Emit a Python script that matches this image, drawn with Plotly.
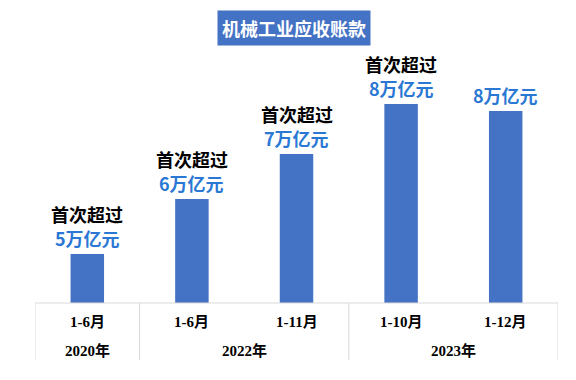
import plotly.graph_objects as go

title = "机械工业应收账款"
months = ["1-6月", "1-6月", "1-11月", "1-10月", "1-12月"]
years = ["2020年", "2022年", "2022年", "2023年", "2023年"]
values = [4.98, 6.08, 6.98, 7.98, 7.84]  # 万亿元 (axis starts at 4)
notes = ["首次超过", "首次超过", "首次超过", "首次超过", ""]
value_labels = ["5万亿元", "6万亿元", "7万亿元", "8万亿元", "8万亿元"]

BAR = "#4472C4"
BLUE_TXT = "#2A78D4"
GRID = "#D9D9D9"
SANS = "Noto Sans CJK SC, Noto Sans, sans-serif"
SERIF = "Liberation Serif, Noto Sans CJK SC, serif"

idx = list(range(len(months)))
fig = go.Figure(go.Bar(x=idx, y=values, marker=dict(color=BAR, line=dict(width=0)),
                       hoverinfo="skip"))

ann = []
shapes = []
for i, v in enumerate(values):
    ann.append(dict(x=i, y=v, xref="x", yref="y", text=f"<b>{value_labels[i]}</b>",
                    showarrow=False, yanchor="middle", yshift=16,
                    font=dict(family=SANS, size=18, color=BLUE_TXT)))
    if notes[i]:
        ann.append(dict(x=i, y=v, xref="x", yref="y", text=f"<b>{notes[i]}</b>",
                        showarrow=False, yanchor="middle", yshift=40,
                        font=dict(family=SANS, size=18, color="#000000")))
    ann.append(dict(x=i, y=0, xref="x", yref="y domain", text=f"<b>{months[i]}</b>",
                    showarrow=False, yanchor="middle", yshift=-19,
                    font=dict(family=SERIF, size=15, color="#000000")))

# year groups
groups = []
for i, yname in enumerate(years):
    if groups and groups[-1][0] == yname:
        groups[-1][2] = i
    else:
        groups.append([yname, i, i])

line_bottom = -57 / 225
bounds = [groups[0][1] - 0.5] + [g[2] + 0.5 for g in groups]
for g in groups:
    ann.append(dict(x=(g[1] + g[2]) / 2, y=0, xref="x", yref="y domain",
                    text=f"<b>{g[0]}</b>", showarrow=False, yanchor="middle", yshift=-47,
                    font=dict(family=SERIF, size=15, color="#000000")))
for b in bounds:
    shapes.append(dict(type="line", xref="x", yref="y domain", x0=b, x1=b, y0=0, y1=line_bottom,
                       line=dict(color=GRID, width=1)))
shapes.append(dict(type="line", xref="x", yref="y domain", x0=bounds[0], x1=bounds[-1], y0=0, y1=0,
                   line=dict(color=GRID, width=1)))

ann.append(dict(x=0.496, y=1.224, xref="paper", yref="paper", text=f"<b>{title}</b>",
                showarrow=False, xanchor="center", yanchor="middle", bgcolor=BAR, borderpad=4,
                font=dict(family=SANS, size=18, color="#FFFFFF")))

fig.update_layout(
    width=576, height=380,
    margin=dict(l=35, r=18, t=78, b=77),
    paper_bgcolor="#FFFFFF", plot_bgcolor="#FFFFFF",
    bargap=0.68, showlegend=False,
    xaxis=dict(range=[-0.5, 4.5], showticklabels=False, showgrid=False, zeroline=False,
               showline=False, ticks=""),
    yaxis=dict(range=[4, 8.5], visible=False),
    annotations=ann, shapes=shapes,
)

fig.write_html("out.html", config={"displayModeBar": False},
               post_script="document.body.style.margin='0';")
